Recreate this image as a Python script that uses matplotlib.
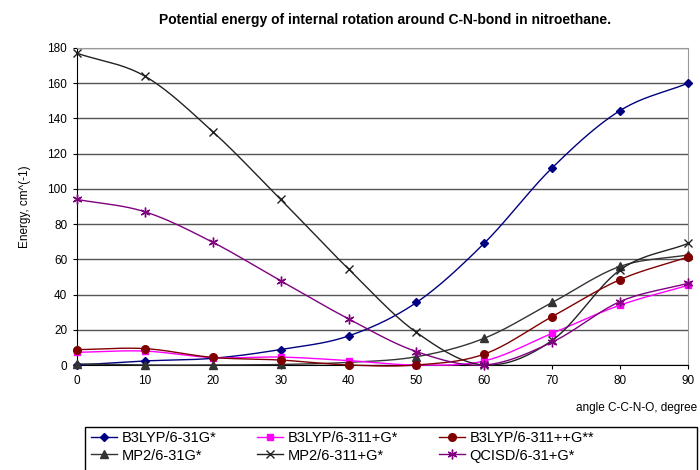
import numpy as np
import matplotlib
matplotlib.use("Agg")
import matplotlib.pyplot as plt
from matplotlib.patches import Rectangle

plt.rcParams['font.family'] = ['Liberation Sans', 'DejaVu Sans']

angle = [0, 10, 20, 30, 40, 50, 60, 70, 80, 90]

b3lyp_631 = [0, 2.3, 3.8, 8.8, 16.5, 35.5, 69.2, 112, 144.5, 160]
b3lyp_311 = [7.2, 7.9, 4.2, 4.5, 2.5, 0, 2.3, 18, 34, 45.2]
b3lyp_311pp = [8.7, 9.3, 4.3, 2.8, 0, 0, 6.2, 27.5, 48.5, 61.3]
mp2_631 = [0.6, 0, 0, 0.3, 1.5, 4.7, 15.2, 35.5, 56, 62.5]
mp2_311 = [177, 164, 132.5, 94, 54.5, 18.5, 0, 14, 54, 69]
qcisd = [94, 87, 69.7, 47.8, 26.2, 7.6, 0, 13, 36, 46.4]

# order is column-wise so the legend reads like the original row by row
series = [
    ("B3LYP/6-31G*", b3lyp_631, "#000080", "D", 3.8),
    ("MP2/6-31G*", mp2_631, "#333333", "^", 5.5),
    ("B3LYP/6-311+G*", b3lyp_311, "#FF00FF", "s", 5),
    ("MP2/6-311+G*", mp2_311, "#222222", "x", 6),
    ("B3LYP/6-311++G**", b3lyp_311pp, "#800000", "o", 5.5),
    ("QCISD/6-31+G*", qcisd, "#800080", (6, 2, 0), 7),
]


def smooth(x, y, n=20):
    # Catmull-Rom curve, roughly what Excel's "smoothed line" looks like
    x = np.asarray(x, float)
    y = np.asarray(y, float)
    px = np.concatenate([[2 * x[0] - x[1]], x, [2 * x[-1] - x[-2]]])
    py = np.concatenate([[2 * y[0] - y[1]], y, [2 * y[-1] - y[-2]]])
    t = np.linspace(0, 1, n, endpoint=False)
    xs, ys = [], []
    for i in range(1, len(px) - 2):
        for p, out in ((px, xs), (py, ys)):
            p0, p1, p2, p3 = p[i - 1], p[i], p[i + 1], p[i + 2]
            out.extend(0.5 * (2 * p1 + (-p0 + p2) * t
                              + (2 * p0 - 5 * p1 + 4 * p2 - p3) * t ** 2
                              + (-p0 + 3 * p1 - 3 * p2 + p3) * t ** 3))
    xs.append(x[-1])
    ys.append(y[-1])
    return np.array(xs), np.array(ys)


fig = plt.figure(figsize=(7, 4.7), dpi=100)
ax = fig.add_axes([77 / 700, 1 - 365 / 470, (688 - 77) / 700, (365 - 48) / 470])

for name, vals, col, mk, ms in series:
    sx, sy = smooth(angle, vals)
    ax.plot(sx, sy, color=col, lw=1.0, zorder=3, clip_on=False)
    ax.plot(angle, vals, linestyle='none', marker=mk, ms=ms, color=col,
            mec=col, mew=1.0, zorder=4, clip_on=False)
    ax.plot([], [], color=col, lw=1.0, marker=mk, ms=ms, mec=col, label=name)

ax.set_xlim(0, 90)
ax.set_ylim(0, 180)
ax.set_xticks(angle)
ax.set_yticks(np.arange(0, 181, 20))
ax.yaxis.grid(True, color='#555555', lw=1.0)
ax.set_axisbelow(True)
ax.tick_params(labelsize=8.5, length=3, direction='out', pad=4)

for s in ['top', 'right']:
    ax.spines[s].set_color('#999999')
ax.spines['left'].set_color('black')
ax.spines['bottom'].set_color('black')

ax.set_ylabel('Energy, cm^(-1)', fontsize=8.5, labelpad=12)
fig.text(697 / 700, 1 - 408 / 470, 'angle C-C-N-O, degree', fontsize=8.5,
         ha='right', va='center')
fig.text(385 / 700, 1 - 20 / 470,
         'Potential energy of internal rotation around C-N-bond in nitroethane.',
         fontsize=10, fontweight='bold', ha='center', va='center')

# legend box is wider than its entries, so draw the frame separately
fig.patches.append(Rectangle((85 / 700, -0.01), 612 / 700, (470 - 427) / 470 + 0.01,
                             transform=fig.transFigure, fill=False,
                             ec='black', lw=1.0))
fig.legend(loc='upper left', bbox_to_anchor=(88 / 700, 1 - 428 / 470),
           borderaxespad=0, ncol=3, fontsize=10.5, frameon=False,
           handlelength=1.8, columnspacing=2.8,
           labelspacing=0.25, borderpad=0.2, handletextpad=0.3)

fig.savefig('out.png', dpi=100)
